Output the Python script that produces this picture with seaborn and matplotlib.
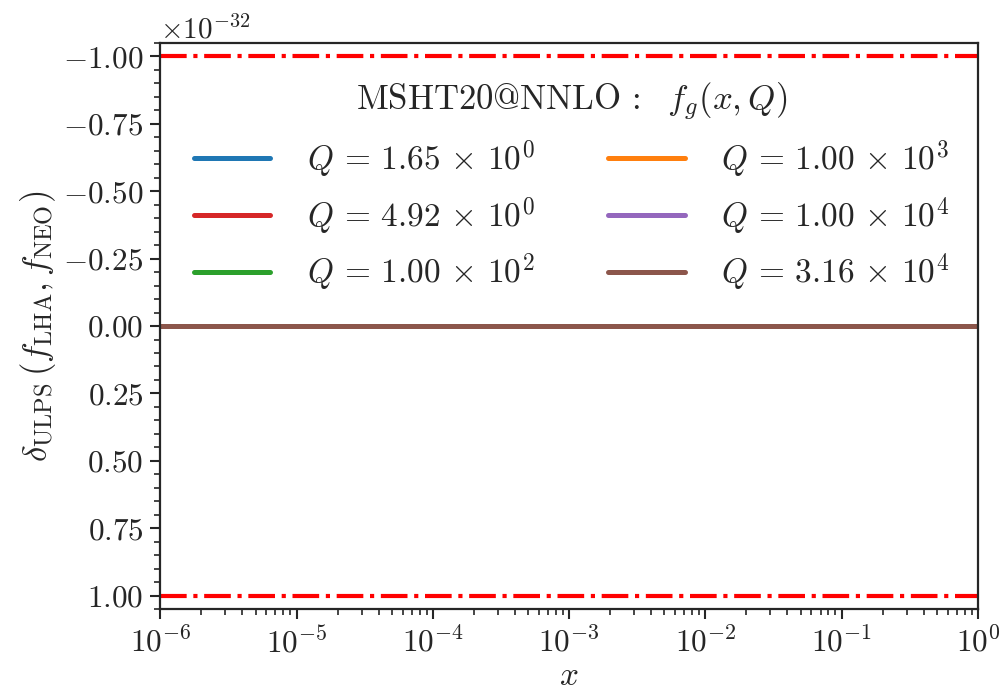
import numpy as np
import pandas as pd
import matplotlib
matplotlib.use("Agg")
import matplotlib.pyplot as plt
import seaborn as sns
from matplotlib.ticker import MultipleLocator, AutoMinorLocator
from matplotlib.lines import Line2D

# ---- data ----
x_vals = [1e-6, 1e-5, 1e-4, 1e-3, 1e-2, 1e-1, 1.0]
q_labels = [r"$Q\,=\,1.65\,\times\,10^{0}$", r"$Q\,=\,4.92\,\times\,10^{0}$",
            r"$Q\,=\,1.00\,\times\,10^{2}$", r"$Q\,=\,1.00\,\times\,10^{3}$",
            r"$Q\,=\,1.00\,\times\,10^{4}$", r"$Q\,=\,3.16\,\times\,10^{4}$"]
q_colors = ["#1f77b4", "#d62728", "#2ca02c", "#ff7f0e", "#9467bd", "#8c564b"]
delta_q0 = [0, 0, 0, 0, 0, 0, 0]
delta_q1 = [0, 0, 0, 0, 0, 0, 0]
delta_q2 = [0, 0, 0, 0, 0, 0, 0]
delta_q3 = [0, 0, 0, 0, 0, 0, 0]
delta_q4 = [0, 0, 0, 0, 0, 0, 0]
delta_q5 = [0, 0, 0, 0, 0, 0, 0]
series = [delta_q0, delta_q1, delta_q2, delta_q3, delta_q4, delta_q5]
ulp_bound = 1e-32

sns.set_style("ticks")
plt.rcParams["font.family"] = ["serif"]
plt.rcParams["font.serif"] = ["cmr10", "DejaVu Serif"]
plt.rcParams["mathtext.fontset"] = "cm"
plt.rcParams["axes.formatter.use_mathtext"] = True
plt.rcParams["axes.unicode_minus"] = True

fig = plt.figure(figsize=(10.02, 6.90), dpi=100)
ax = fig.add_axes([0.16, 0.117, 0.816, 0.821])

rows = []
for lab, vals in zip(q_labels, series):
    for xv, yv in zip(x_vals, vals):
        rows.append({"x": xv, "delta": yv * ulp_bound, "Q": lab})
df = pd.DataFrame(rows)

sns.lineplot(data=df, x="x", y="delta", hue="Q", hue_order=q_labels,
             palette=q_colors, linewidth=3.6, ax=ax, legend=False)

ax.axhline(-ulp_bound, color="red", ls="-.", lw=3)
ax.axhline(ulp_bound, color="red", ls="-.", lw=3)

ax.set_xscale("log")
ax.set_xlim(1e-6, 1)
ax.set_ylim(1.05e-32, -1.05e-32)
ax.yaxis.set_major_locator(MultipleLocator(0.25e-32))
ax.yaxis.set_minor_locator(AutoMinorLocator(5))

ax.tick_params(axis="both", which="major", labelsize=22.5, length=7, width=1.5, direction="out", pad=5)
ax.tick_params(axis="both", which="minor", length=4, width=1.2, direction="out")
ax.yaxis.get_offset_text().set_fontsize(21)
for sp in ax.spines.values():
    sp.set_linewidth(1.6)

ax.set_xlabel(r"$x$", fontsize=24, labelpad=2)
ax.set_ylabel(r"$\delta_{\rm ULPS}\,(f_{\rm LHA}, f_{\rm NEO})$", fontsize=25, labelpad=4)

handles = [Line2D([], [], color=c, lw=3.6) for c in q_colors]
leg = ax.legend(handles, q_labels, ncol=2, frameon=False, fontsize=24,
                title=r"$\mathrm{MSHT20@NNLO}\,:\ \ f_g(x,Q)$", title_fontsize=25,
                loc="upper center", bbox_to_anchor=(0.503, 0.985),
                handlelength=2.3, columnspacing=2.2, handletextpad=1.1, labelspacing=0.45)

fig.savefig("out.png", dpi=100)
